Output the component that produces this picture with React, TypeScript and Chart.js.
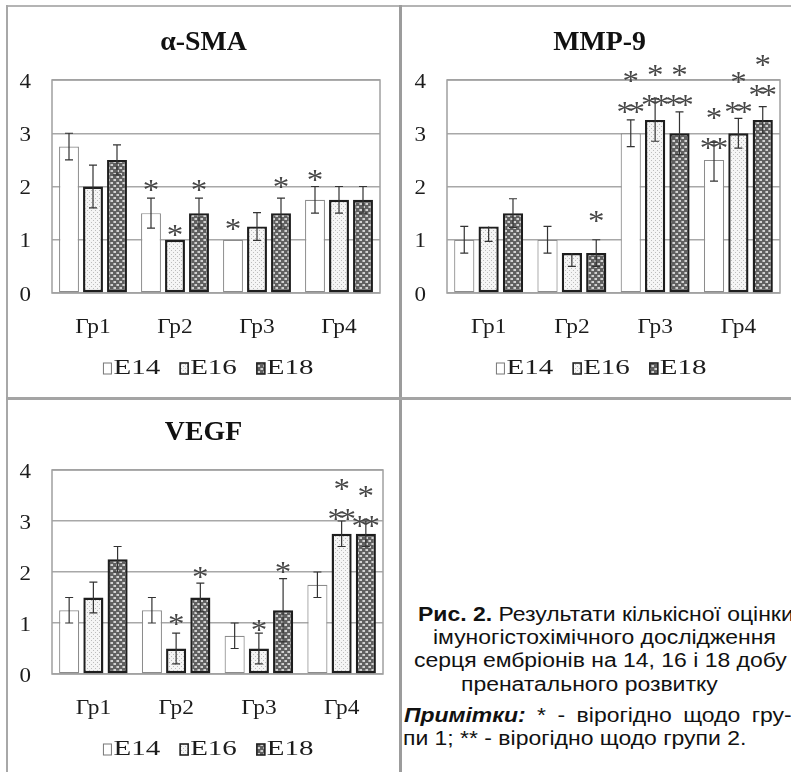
import React, { useEffect, useRef } from 'react';
import { Chart, registerables } from 'chart.js';

Chart.register(...registerables);

// ---------------- data ----------------
const categories = ['Гр1', 'Гр2', 'Гр3', 'Гр4'];
const seriesNames = ['E14', 'E16', 'E18'];
const yTickValues = [0, 1, 2, 3, 4];

// α-SMA
const smaE14 = [2.75, 1.5, 1.0, 1.75];
const smaE16 = [2.0, 1.0, 1.25, 1.75];
const smaE18 = [2.5, 1.5, 1.5, 1.75];
const smaErrE14: (number | number[])[] = [0.25, 0.28, 0, 0.25];
const smaErrE16: (number | number[])[] = [0.4, 0, 0.26, 0.25];
const smaErrE18: (number | number[])[] = [0.28, 0.28, 0.28, 0.25];
// [series, category, mark, level]
const smaStars: [number, number, string, number][] = [
  [0, 1, '*', 2.01], [1, 1, '*', 1.18], [2, 1, '*', 2.01],
  [0, 2, '*', 1.29], [2, 2, '*', 2.07], [0, 3, '*', 2.21],
];

// MMP-9
const mmpE14 = [1.0, 1.0, 3.0, 2.5];
const mmpE16 = [1.25, 0.75, 3.25, 3.0];
const mmpE18 = [1.5, 0.75, 3.0, 3.25];
const mmpErrE14: (number | number[])[] = [0.25, 0.25, 0.25, [0.4, 0.33]];
const mmpErrE16: (number | number[])[] = [[0.28, 0], [0.25, 0], 0.4, 0.28];
const mmpErrE18: (number | number[])[] = [0.27, 0.25, 0.4, 0.25];
const mmpStars: [number, number, string, number][] = [
  [2, 1, '*', 1.43],
  [0, 2, '**', 3.49], [0, 2, '*', 4.07],
  [1, 2, '**', 3.62], [1, 2, '*', 4.18],
  [2, 2, '**', 3.62], [2, 2, '*', 4.17],
  [0, 3, '**', 2.81], [0, 3, '*', 3.38],
  [1, 3, '**', 3.49], [1, 3, '*', 4.05],
  [2, 3, '**', 3.81], [2, 3, '*', 4.37],
];

// VEGF
const vegfE14 = [1.25, 1.25, 0.75, 1.75];
const vegfE16 = [1.5, 0.5, 0.5, 2.75];
const vegfE18 = [2.25, 1.5, 1.25, 2.75];
const vegfErrE14: (number | number[])[] = [0.25, 0.25, 0.25, 0.25];
const vegfErrE16: (number | number[])[] = [0.3, 0.3, 0.3, 0.25];
const vegfErrE18: (number | number[])[] = [0.25, 0.28, 0.62, 0.25];
const vegfStars: [number, number, string, number][] = [
  [1, 1, '*', 1.06], [2, 1, '*', 1.99],
  [1, 2, '*', 0.96], [2, 2, '*', 2.08],
  [1, 3, '**', 3.12], [1, 3, '*', 3.71],
  [2, 3, '**', 3.0], [2, 3, '*', 3.57],
];

// ---------------- styling ----------------
const SERIF = "'Liberation Serif', 'Times New Roman', serif";
const SANS = "'Liberation Sans', Arial, sans-serif";
const TEXT = '#1c1c1c';
const STRETCH = 1.147;

function makePatterns() {
  const dotTile = document.createElement('canvas');
  dotTile.width = 4; dotTile.height = 4;
  const d = dotTile.getContext('2d')!;
  d.fillStyle = '#f5f5f5'; d.fillRect(0, 0, 4, 4);
  d.fillStyle = '#bdbdbd'; d.fillRect(1, 1, 1, 1); d.fillRect(3, 3, 1, 1);

  const chkTile = document.createElement('canvas');
  chkTile.width = 6; chkTile.height = 6;
  const c = chkTile.getContext('2d')!;
  c.fillStyle = '#606060'; c.fillRect(0, 0, 6, 6);
  c.fillStyle = '#d2d2d2'; c.fillRect(1, 1, 2, 2); c.fillRect(4, 4, 2, 2);
  c.fillStyle = '#a0a0a0'; c.fillRect(0, 1, 1, 2); c.fillRect(3, 4, 1, 2);

  const tmp = document.createElement('canvas').getContext('2d')!;
  return {
    dots: tmp.createPattern(dotTile, 'repeat') as CanvasPattern,
    check: tmp.createPattern(chkTile, 'repeat') as CanvasPattern,
  };
}

function stretchText(ctx: CanvasRenderingContext2D, text: string, x: number, y: number,
  font: string, sx: number, align: CanvasTextAlign, color = TEXT) {
  ctx.save();
  ctx.font = font;
  ctx.fillStyle = color;
  ctx.textBaseline = 'alphabetic';
  ctx.textAlign = align;
  ctx.translate(x, y);
  ctx.scale(sx, 1);
  ctx.fillText(text, 0, 0);
  ctx.restore();
}

type Spec = {
  title: string;
  values: number[][];
  errors: (number | number[])[][];
  stars: [number, number, string, number][];
  x: number; y: number; w: number; h: number;
  pad: { left: number; top: number; right: number; bottom: number };
  yWidth: number;
  titleDx: number;
};

const specs: Spec[] = [
  {
    title: 'α-SMA', values: [smaE14, smaE16, smaE18], errors: [smaErrE14, smaErrE16, smaErrE18], stars: smaStars,
    x: 8, y: 7, w: 391, h: 390, pad: { left: 0, top: 73, right: 19, bottom: 64 }, yWidth: 44, titleDx: 0,
  },
  {
    title: 'MMP-9', values: [mmpE14, mmpE16, mmpE18], errors: [mmpErrE14, mmpErrE16, mmpErrE18], stars: mmpStars,
    x: 402, y: 7, w: 389, h: 390, pad: { left: 0, top: 73, right: 11, bottom: 64 }, yWidth: 45, titleDx: 3,
  },
  {
    title: 'VEGF', values: [vegfE14, vegfE16, vegfE18], errors: [vegfErrE14, vegfErrE16, vegfErrE18], stars: vegfStars,
    x: 8, y: 401, w: 391, h: 371, pad: { left: 0, top: 69, right: 16, bottom: 58 }, yWidth: 44, titleDx: 0,
  },
];

function decorPlugin(spec: Spec, pats: { dots: CanvasPattern; check: CanvasPattern }) {
  return {
    id: 'decor',
    beforeDatasetsDraw(chart: any) {
      const { ctx, chartArea: a } = chart;
      ctx.save();
      ctx.strokeStyle = '#a0a0a0';
      ctx.lineWidth = 1.5;
      ctx.strokeRect(a.left, a.top, a.right - a.left, a.bottom - a.top);
      ctx.restore();
    },
    afterDatasetsDraw(chart: any) {
      const { ctx } = chart;
      const ys = chart.scales.y;
      ctx.save();
      ctx.strokeStyle = '#333';
      ctx.lineWidth = 1.2;
      spec.errors.forEach((errs, di) => {
        const meta = chart.getDatasetMeta(di);
        errs.forEach((e, i) => {
          const v = spec.values[di][i];
          const [down, up] = Array.isArray(e) ? e : [e, e];
          if (!down && !up) return;
          const x = meta.data[i].x;
          const yTop = ys.getPixelForValue(v + up);
          const yBot = ys.getPixelForValue(v - down);
          ctx.beginPath();
          ctx.moveTo(x, yTop); ctx.lineTo(x, yBot);
          if (up) { ctx.moveTo(x - 4, yTop); ctx.lineTo(x + 4, yTop); }
          if (down) { ctx.moveTo(x - 4, yBot); ctx.lineTo(x + 4, yBot); }
          ctx.stroke();
        });
      });
      ctx.restore();
    },
    afterDraw(chart: any) {
      const { ctx, chartArea: a } = chart;
      const ys = chart.scales.y;
      const xs = chart.scales.x;
      // title
      stretchText(ctx, spec.title, chart.width / 2 + spec.titleDx, a.top - 30, `bold 27px ${SERIF}`, 1.03, 'center', '#111');
      // y tick labels
      yTickValues.forEach(v => {
        stretchText(ctx, String(v), a.left - 21, ys.getPixelForValue(v) + 7.5, `20px ${SERIF}`, 1.15, 'right');
      });
      // x labels
      categories.forEach((c, i) => {
        stretchText(ctx, c, xs.getPixelForValue(i), a.bottom + 39.5, `20px ${SERIF}`, 1.17, 'center');
      });
      // stars (each asterisk placed separately)
      spec.stars.forEach(([di, ci, mark, level]) => {
        const el = chart.getDatasetMeta(di).data[ci];
        const n = mark.length;
        for (let k = 0; k < n; k++) {
          const sx = el.x + (k - (n - 1) / 2) * 12;
          stretchText(ctx, '*', sx, ys.getPixelForValue(level) + 13.5, `30px ${SERIF}`, 1.1, 'center', '#474747');
        }
      });
      // legend
      const sx = 1.45, boxW = 8, boxH = 11, gapBT = 2, gapItems = 20;
      ctx.save();
      ctx.font = `20px ${SERIF}`;
      const widths = seriesNames.map(n => ctx.measureText(n).width * sx);
      ctx.restore();
      const total = widths.reduce((s, w) => s + w + boxW + gapBT, 0) + gapItems * (seriesNames.length - 1);
      let lx = chart.width / 2 + 5 - total / 2;
      const base = a.bottom + 81;
      const fills = ['#ffffff', pats.dots, pats.check];
      const strokes = ['#777', '#222', '#222'];
      const lws = [1, 1.6, 1.6];
      seriesNames.forEach((n, i) => {
        ctx.save();
        ctx.fillStyle = fills[i];
        ctx.fillRect(lx, base - boxH, boxW, boxH);
        ctx.strokeStyle = strokes[i];
        ctx.lineWidth = lws[i];
        ctx.strokeRect(lx, base - boxH, boxW, boxH);
        ctx.restore();
        stretchText(ctx, n, lx + boxW + gapBT, base, `20px ${SERIF}`, sx, 'left');
        lx += boxW + gapBT + widths[i] + gapItems;
      });
    },
  };
}

function Panel({ spec }: { spec: Spec }) {
  const ref = useRef<HTMLCanvasElement>(null);
  useEffect(() => {
    const canvas = ref.current!;
    const pats = makePatterns();
    const fills = ['#ffffff', pats.dots, pats.check];
    const borders = ['#8c8c8c', '#1e1e1e', '#1e1e1e'];
    const bws = [1.2, 2.4, 2.4];
    const chart = new Chart(canvas, {
      type: 'bar',
      data: {
        labels: categories,
        datasets: spec.values.map((vals, i) => ({
          label: seriesNames[i],
          data: vals,
          backgroundColor: fills[i] as any,
          borderColor: borders[i],
          borderWidth: bws[i],
          borderSkipped: false,
          categoryPercentage: 0.878,
          barPercentage: 0.83,
        })),
      },
      options: {
        responsive: false,
        maintainAspectRatio: false,
        animation: false,
        events: [],
        layout: { padding: spec.pad },
        plugins: {
          legend: { display: false },
          title: { display: false },
          tooltip: { enabled: false },
        },
        scales: {
          x: {
            ticks: { display: false },
            grid: { display: false },
            border: { display: false },
            afterFit: (s: any) => { s.height = 40; },
          },
          y: {
            min: 0,
            max: 4,
            ticks: { display: false, stepSize: 1 },
            grid: { color: '#a8a8a8', lineWidth: 1.5, drawTicks: false },
            border: { display: false },
            afterFit: (s: any) => { s.width = spec.yWidth; },
          },
        },
      } as any,
      plugins: [decorPlugin(spec, pats)],
    });
    return () => chart.destroy();
  }, [spec]);
  return (
    <canvas
      ref={ref}
      width={spec.w}
      height={spec.h}
      style={{ position: 'absolute', left: spec.x, top: spec.y, width: spec.w, height: spec.h }}
    />
  );
}

const lineStyle = (left: number, baseline: number): React.CSSProperties => ({
  position: 'absolute',
  left,
  top: baseline - 17,
  fontFamily: SANS,
  fontSize: 20,
  lineHeight: '20px',
  whiteSpace: 'nowrap',
  color: '#111',
  transform: `scaleX(${STRETCH})`,
  transformOrigin: '0 0',
});

export default function App() {
  return (
    <div style={{ position: 'absolute', left: 0, top: 0, width: 791, height: 772, overflow: 'hidden', background: '#fff' }}>
      {/* frame lines */}
      <div style={{ position: 'absolute', left: 6, top: 5, width: 785, height: 2, background: '#b4b4b4' }} />
      <div style={{ position: 'absolute', left: 6, top: 5, width: 2, height: 767, background: '#a8a8a8' }} />
      <div style={{ position: 'absolute', left: 399, top: 5, width: 3, height: 767, background: '#9c9c9c' }} />
      <div style={{ position: 'absolute', left: 6, top: 397, width: 785, height: 3, background: '#a4a4a4' }} />
      {specs.map((s, i) => <Panel key={i} spec={s} />)}
      {/* caption */}
      <div style={lineStyle(418, 621)}><b>Рис. 2.</b> Результати кількісної оцінки</div>
      <div style={lineStyle(433, 644)}>імуногістохімічного дослідження</div>
      <div style={lineStyle(414, 667)}>серця ембріонів на 14, 16 і 18 добу</div>
      <div style={lineStyle(461, 690.5)}>пренатального розвитку</div>
      <div style={{ ...lineStyle(404, 721.5), width: 338, textAlign: 'justify', textAlignLast: 'justify' as any }}>
        <b><i>Примітки:</i></b> * - вірогідно щодо гру-
      </div>
      <div style={lineStyle(403, 744.5)}>пи 1; ** - вірогідно щодо групи 2.</div>
    </div>
  );
}
